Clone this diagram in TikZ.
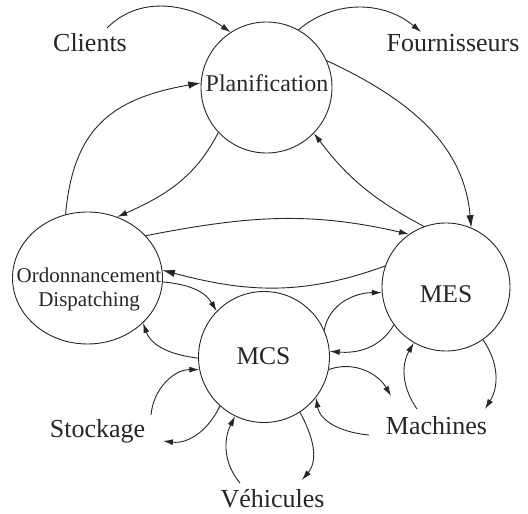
\documentclass[tikz,border=0pt]{standalone}
\usepackage{fontspec}
\setmainfont{Liberation Serif}
\usetikzlibrary{arrows.meta,shapes.geometric}
\begin{document}
\begin{tikzpicture}[x=1pt,y=1pt,
  circ/.style={draw=black!85, circle, line width=0.9pt, inner sep=0pt},
  lab/.style={anchor=base, inner sep=0pt, text=black!85, font=\fontsize{26}{30}\selectfont},
  flow/.style={draw=black!85, line width=0.9pt, -{Latex[length=10pt,width=6pt]}},
  bigflow/.style={flow, -{Latex[length=12.5pt,width=7.5pt]}}
]
\useasboundingbox (0,0) rectangle (528,514);

% main circles
\node[circ, minimum size=131pt] (plan) at (266.5,426.5) {};
\node[draw=black!85, ellipse, line width=0.9pt, inner sep=0pt, minimum width=150pt, minimum height=132pt] (ord) at (87.5,236) {};
\node[circ, minimum size=128pt] (mes) at (446,227) {};
\node[circ, minimum size=131pt] (mcs) at (264,157) {};

% texts in circles
\node[lab, font=\fontsize{24}{28}\selectfont] (plantxt) at (267,422) {Planification};
\node[lab, font=\fontsize{21}{24}\selectfont] (ordtxt1) at (89,231) {Ordonnancement};
\node[lab, font=\fontsize{21}{24}\selectfont] (ordtxt2) at (89,207) {Dispatching};
\node[lab, font=\fontsize{25.5}{30}\selectfont] (mestxt) at (446,211) {MES};
\node[lab, font=\fontsize{25.5}{30}\selectfont] (mcstxt) at (263.5,149) {MCS};

% outer labels
\node[lab] (clients) at (90,462) {Clients};
\node[lab] (fourn) at (453,462) {Fournisseurs};
\node[lab] (stock) at (97.5,76) {Stockage};
\node[lab] (mach) at (436.5,79) {Machines};
\node[lab] (vehic) at (272.5,6) {Véhicules};

% free ends
\coordinate (cl) at (107,486);
\coordinate (fo) at (421,482);
\coordinate (ma1) at (391,118);
\coordinate (ma2) at (369,79);
\coordinate (ma3) at (417,105);
\coordinate (ma4) at (485,105);
\coordinate (st1) at (151,99);
\coordinate (st2) at (163,73);
\coordinate (ve1) at (240,31);
\coordinate (ve2) at (302,34);

% connectors
\draw[flow] (cl) to[out=45,in=145] (plan.123);
\draw[flow] (plan.61) to[out=40,in=140] (fo);
\draw[bigflow] (plan.24) to[out=-25,in=95] (mes.67);
\draw[flow] (mes.110) to[out=152,in=-53] (plan.-44);
\draw[bigflow] (ord.109) to[out=85,in=190,looseness=1.2] (plan.176);
\draw[flow] (plan.223) to[out=243,in=24] (ord.64);
\draw[flow] (ord.36) to[out=11,in=167] (mes.125);
\draw[bigflow] (mes.161) to[out=200,in=-15] (ord.6);
\draw[flow] (ord.-3) to[out=-5,in=120] (mcs.136);
\draw[flow] (mcs.181) to[out=173,in=-70] (ord.-39);
\draw[flow] (mcs.24) to[out=80,in=180] (mes.185);
\draw[flow] (mes.216) to[out=240,in=-5] (mcs.5);
\draw[flow] (mcs.-11) to[out=20,in=120] (ma1);
\draw[flow] (ma2) to[out=175,in=-80] (mcs.-38);
\draw[flow] (ma3) to[out=125,in=240] (mes.240);
\draw[flow] (mes.-55) to[out=-55,in=58] (ma4);
\draw[flow] (st1) to[out=85,in=180] (mcs.191);
\draw[flow] (mcs.228) to[out=245,in=-7] (st2);
\draw[flow] (ve1) to[out=130,in=243] (mcs.244);
\draw[flow] (mcs.-57) to[out=-61,in=50] (ve2);
\end{tikzpicture}
\end{document}
